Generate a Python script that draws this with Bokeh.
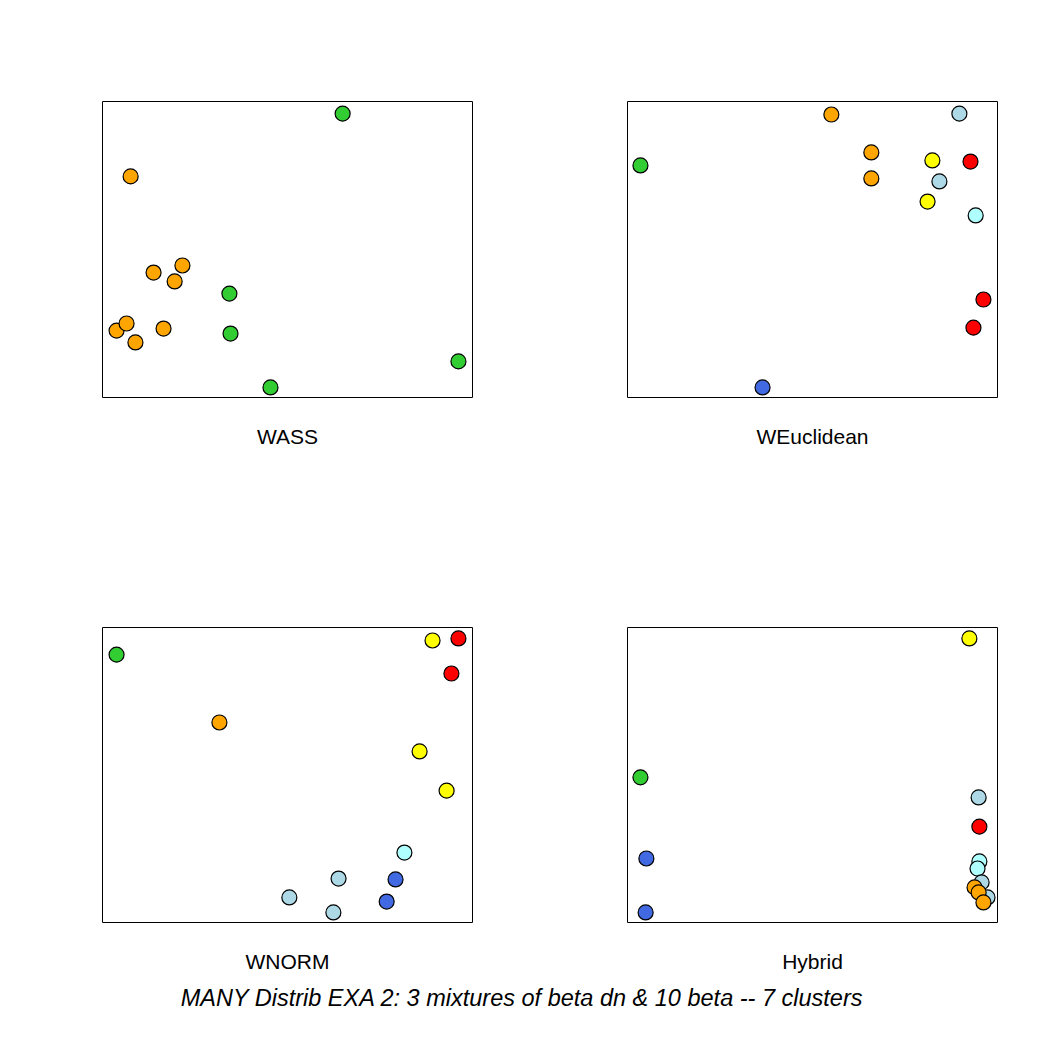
from bokeh.plotting import figure
from bokeh.layouts import column, row
from bokeh.models import Range1d, LinearAxis, FixedTicker, ColumnDataSource
from bokeh.core.properties import value
from bokeh.embed import file_html
from bokeh.resources import INLINE

ORANGE = "#FFA500"
GREEN = "#32CD32"
LBLUE = "#ADD8E6"
CYAN = "#B0FFFF"
BLUE = "#4169E1"
RED = "#FF0000"
YELLOW = "#FFFF00"

# Panel data (normalised MDS-like coordinates)
wass_x = [0.649, 0.076, 0.138, 0.216, 0.195, 0.343, 0.038, 0.065, 0.089, 0.165, 0.346, 0.962, 0.454]
wass_y = [0.959, 0.747, 0.422, 0.446, 0.392, 0.351, 0.226, 0.250, 0.186, 0.233, 0.216, 0.122, 0.034]
wass_col = [GREEN, ORANGE, ORANGE, ORANGE, ORANGE, GREEN, ORANGE, ORANGE, ORANGE, ORANGE, GREEN, GREEN, GREEN]

weuc_x = [0.035, 0.551, 0.659, 0.659, 0.897, 0.824, 0.927, 0.843, 0.811, 0.941, 0.962, 0.935, 0.365]
weuc_y = [0.784, 0.956, 0.828, 0.740, 0.959, 0.801, 0.797, 0.730, 0.662, 0.615, 0.331, 0.236, 0.034]
weuc_col = [GREEN, ORANGE, ORANGE, ORANGE, LBLUE, YELLOW, RED, LBLUE, YELLOW, CYAN, RED, RED, BLUE]

wnorm_x = [0.038, 0.316, 0.892, 0.962, 0.943, 0.857, 0.930, 0.816, 0.638, 0.792, 0.505, 0.768, 0.624]
wnorm_y = [0.908, 0.678, 0.956, 0.963, 0.844, 0.580, 0.447, 0.237, 0.149, 0.146, 0.085, 0.071, 0.034]
wnorm_col = [GREEN, ORANGE, YELLOW, RED, RED, YELLOW, YELLOW, CYAN, LBLUE, BLUE, LBLUE, BLUE, LBLUE]

hyb_x = [0.924, 0.035, 0.949, 0.951, 0.051, 0.951, 0.946, 0.957, 0.973, 0.938, 0.949, 0.962, 0.049]
hyb_y = [0.963, 0.492, 0.424, 0.325, 0.217, 0.207, 0.183, 0.136, 0.085, 0.119, 0.102, 0.068, 0.034]
hyb_col = [YELLOW, GREEN, LBLUE, RED, BLUE, CYAN, CYAN, LBLUE, LBLUE, ORANGE, ORANGE, ORANGE, BLUE]

panel_titles = ["WASS", "WEuclidean", "WNORM", "Hybrid"]
main_title = "MANY Distrib EXA 2:  3 mixtures of beta dn & 10 beta -- 7 clusters"

FONT = "Liberation Sans"


def panel(xs, ys, cols, label, height, top, bottom):
    p = figure(width=525, height=height, output_backend="svg", toolbar_location=None,
               x_range=Range1d(0, 1), y_range=Range1d(0, 1),
               x_axis_location=None, y_axis_location=None, tools="")
    p.min_border_left = 102
    p.min_border_right = 53
    p.min_border_top = top
    p.min_border_bottom = bottom
    p.grid.visible = False
    p.outline_line_color = "black"
    p.outline_line_width = 1
    p.background_fill_color = "white"
    p.border_fill_color = "white"
    ax = LinearAxis(ticker=FixedTicker(ticks=[]), axis_line_color=None,
                    major_tick_line_color=None, minor_tick_line_color=None,
                    major_label_text_font_size="0px",
                    axis_label=label, axis_label_text_font=FONT,
                    axis_label_text_font_style="normal",
                    axis_label_text_font_size="21px",
                    axis_label_text_color="black",
                    axis_label_standoff=27)
    p.add_layout(ax, "below")
    src = ColumnDataSource(dict(x=xs, y=ys, c=cols))
    p.scatter("x", "y", source=src, size=15, fill_color="c",
              line_color="black", line_width=1.2)
    return p


p1 = panel(wass_x, wass_y, wass_col, panel_titles[0], 525, 101, 128)
p2 = panel(weuc_x, weuc_y, weuc_col, panel_titles[1], 525, 101, 128)
p3 = panel(wnorm_x, wnorm_y, wnorm_col, panel_titles[2], 455, 102, 58)
p4 = panel(hyb_x, hyb_y, hyb_col, panel_titles[3], 455, 102, 58)

pt = figure(width=1050, height=70, output_backend="svg", toolbar_location=None,
            x_range=Range1d(0, 1), y_range=Range1d(0, 1),
            x_axis_location=None, y_axis_location=None, tools="", min_border=0)
pt.grid.visible = False
pt.outline_line_color = None
pt.text(x=[0.5], y=[0.757], text=[main_title], text_font=value(FONT),
        text_font_size="23.5px", text_font_style="italic", text_align="center",
        text_baseline="middle", text_color="black")

layout = column(row(p1, p2), row(p3, p4), pt)

open("out.html", "w").write(file_html(layout, INLINE))
